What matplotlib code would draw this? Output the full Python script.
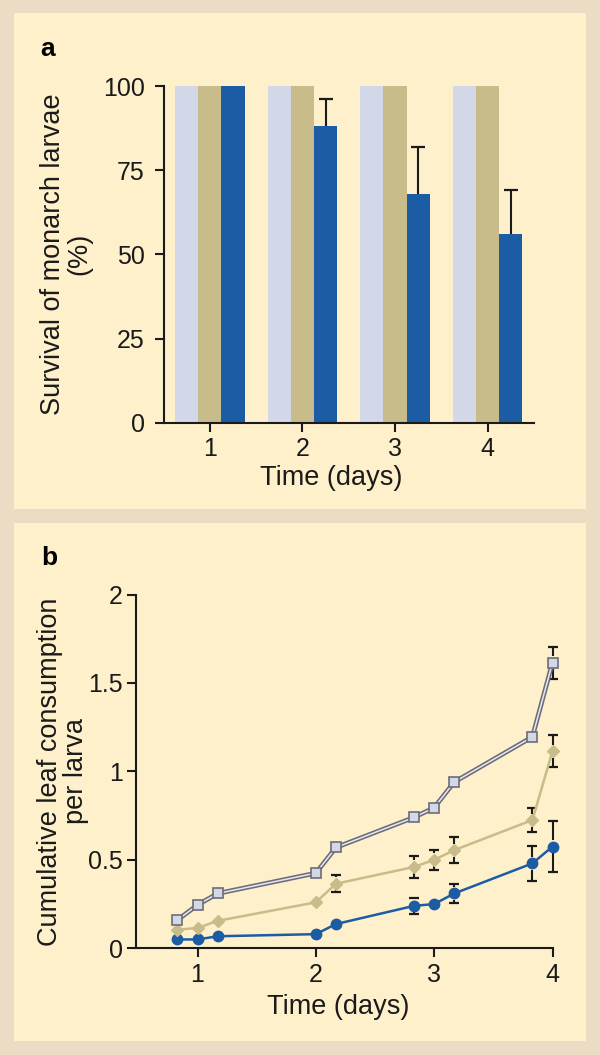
import matplotlib.pyplot as plt
from matplotlib.patches import Rectangle

plt.rcParams['font.family'] = ['Liberation Sans', 'DejaVu Sans']

# panel a: survival (%)
days = [1, 2, 3, 4]
no_pollen = [100, 100, 100, 100]
untransformed = [100, 100, 100, 100]
bt_pollen = [100, 88, 68, 56]
bt_err = [0, 8, 14, 13]

# panel b: cumulative leaf consumption per larva
t = [0.83, 1.0, 1.17, 2.0, 2.17, 2.83, 3.0, 3.17, 3.83, 4.0]
cons_none = [0.16, 0.245, 0.31, 0.425, 0.57, 0.74, 0.795, 0.94, 1.195, 1.615]
cons_untr = [0.105, 0.115, 0.155, 0.26, 0.365, 0.46, 0.5, 0.555, 0.725, 1.115]
cons_bt = [0.05, 0.05, 0.068, 0.08, 0.137, 0.24, 0.25, 0.31, 0.48, 0.575]
err_none = [0, 0, 0, 0, 0, 0, 0, 0, 0, 0.09]
err_untr = [0, 0, 0, 0, 0.048, 0.061, 0.058, 0.072, 0.066, 0.09]
err_bt = [0, 0, 0, 0, 0, 0.047, 0, 0.056, 0.10, 0.142]

OUTER = '#EBDDC3'
PANEL = '#FEF0CA'
LIGHT = '#D3D8E8'
TAN = '#C8BC8A'
BLUE = '#1B5CA4'
INK = '#1a1a1a'

W, H = 600, 1055
fig = plt.figure(figsize=(W / 100, H / 100), dpi=100, facecolor=OUTER)

for top, bot in [(13, 509), (523, 1041)]:
    fig.add_artist(Rectangle((14 / W, 1 - bot / H), (585.5 - 14) / W, (bot - top) / H,
                             transform=fig.transFigure, fc=PANEL, ec='none', zorder=-5))


def style(ax, ypad):
    ax.set_facecolor('none')
    for s in ['top', 'right']:
        ax.spines[s].set_visible(False)
    for s in ['left', 'bottom']:
        ax.spines[s].set_linewidth(1.5)
        ax.spines[s].set_color(INK)
    ax.tick_params(direction='out', length=6.5, width=1.5, color=INK,
                   labelsize=18, labelcolor=INK)
    ax.tick_params(axis='y', pad=ypad)
    ax.tick_params(axis='x', pad=4)


# ---- panel a ----
ax1 = fig.add_axes([163.5 / W, 1 - 422.7 / H, 370.5 / W, 336.7 / H])
style(ax1, 7)
bw = 0.25
ax1.bar([d - bw for d in days], no_pollen, bw, color=LIGHT, zorder=2)
ax1.bar(days, untransformed, bw, color=TAN, zorder=2)
ax1.bar([d + bw for d in days], bt_pollen, bw, color=BLUE, zorder=2)
for d, v, e in zip(days, bt_pollen, bt_err):
    if e > 0:
        ax1.vlines(d + bw, v, v + e, color=INK, lw=1.5, zorder=3)
        ax1.plot(d + bw, v + e, marker='_', ms=9.6, mew=1.6, color=INK, zorder=3)
ax1.set_xlim(0.5, 4.5)
ax1.set_ylim(0, 100)
ax1.set_xticks(days)
ax1.set_yticks([0, 25, 50, 75, 100])
ax1.set_ylabel('Survival of monarch larvae\n(%)', fontsize=19.5, color=INK, linespacing=1.05)
ax1.yaxis.set_label_coords(-0.263, 0.5)
ax1.yaxis.label.set_va('center')
ax1.set_xlabel('Time (days)', fontsize=19.5, color=INK)
ax1.xaxis.set_label_coords(0.452, -0.164)
ax1.xaxis.label.set_va('center')

# ---- panel b ----
ax2 = fig.add_axes([136 / W, 1 - 948.3 / H, 416.5 / W, 353.8 / H])
style(ax2, 3)
ax2.set_xlim(0.48, 4.0)
ax2.set_ylim(0, 2)
ax2.set_xticks([1, 2, 3, 4])
ax2.set_yticks([0, 0.5, 1, 1.5, 2])
ax2.set_yticklabels(['0', '0.5', '1', '1.5', '2'])

STEM_GAP = 0.037


def err_bars(ax, xs, ys, errs):
    for x, y, e in zip(xs, ys, errs):
        if e <= 0:
            continue
        if e > STEM_GAP:
            ax.vlines(x, y + STEM_GAP, y + e, color=INK, lw=1.5, zorder=3, clip_on=False)
            ax.vlines(x, y - e, y - STEM_GAP, color=INK, lw=1.5, zorder=3, clip_on=False)
        ax.plot([x, x], [y + e, y - e], ls='none', marker='_', ms=7.5, mew=1.6,
                color=INK, zorder=3, clip_on=False)


err_bars(ax2, t, cons_none, err_none)
err_bars(ax2, t, cons_untr, err_untr)
err_bars(ax2, t, cons_bt, err_bt)

ax2.plot(t, cons_bt, color=BLUE, lw=1.8, marker='o', ms=7.5, mfc=BLUE, mec=BLUE,
         zorder=4, clip_on=False)
ax2.plot(t, cons_untr, color=TAN, lw=1.8, marker='D', ms=6, mfc=TAN, mec=TAN,
         zorder=5, clip_on=False)
ax2.plot(t, cons_none, color='#6C6C78', lw=3.4, zorder=6, clip_on=False)
ax2.plot(t, cons_none, color='#E6E8F2', lw=1.1, zorder=6, clip_on=False)
ax2.plot(t, cons_none, ls='none', marker='s', ms=7.8, mfc=LIGHT, mec='#6C6C78',
         mew=1.2, zorder=7, clip_on=False)

ax2.set_ylabel('Cumulative leaf consumption\nper larva', fontsize=19.5, color=INK,
               linespacing=1.0)
ax2.yaxis.set_label_coords(-0.176, 0.5)
ax2.yaxis.label.set_va('center')
ax2.set_xlabel('Time (days)', fontsize=19.5, color=INK)
ax2.xaxis.set_label_coords(0.485, -0.165)
ax2.xaxis.label.set_va('center')

fig.text(48 / W, 1 - 49 / H, 'a', fontsize=19, fontweight='black', ha='center', va='center')
fig.text(49.5 / W, 1 - 558 / H, 'b', fontsize=19, fontweight='black', ha='center', va='center')

fig.savefig('out.png', dpi=100, facecolor=OUTER)
